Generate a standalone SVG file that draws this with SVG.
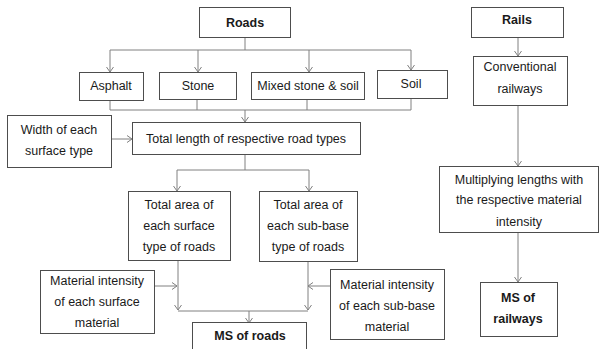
<svg xmlns="http://www.w3.org/2000/svg" width="600" height="349" viewBox="0 0 600 349">
<defs>
<style>
.box{fill:#fff;stroke:#4d4d4d;stroke-width:1}
.t{font-family:"Liberation Sans",Arial,sans-serif;font-size:12.5px;fill:#1a1a1a;text-anchor:middle}
.b{font-weight:bold}
.c{fill:none;stroke:#808080;stroke-width:1}
</style>
<marker id="ah" markerWidth="10" markerHeight="10" refX="8" refY="5" orient="auto" markerUnits="userSpaceOnUse">
<polyline points="3,1.5 8,5 3,8.5" fill="none" stroke="#808080" stroke-width="1"/>
</marker>
</defs>
<rect width="600" height="349" fill="#fff"/>
<g id="connectors">
<path class="c" d="M245,37 V50 M110,50 H411"/>
<path class="c" d="M110,50 V72" marker-end="url(#ah)"/>
<path class="c" d="M198,50 V72" marker-end="url(#ah)"/>
<path class="c" d="M309,50 V72" marker-end="url(#ah)"/>
<path class="c" d="M411,50 V70" marker-end="url(#ah)"/>
<path class="c" d="M110,100 V110 H411 V98 M197,99 V110 M307,99 V110"/>
<path class="c" d="M245,110 V122" marker-end="url(#ah)"/>
<path class="c" d="M111,139 H132" marker-end="url(#ah)"/>
<path class="c" d="M245,154 V170 M177,170 H309"/>
<path class="c" d="M177,170 V191" marker-end="url(#ah)"/>
<path class="c" d="M309,170 V191" marker-end="url(#ah)"/>
<path class="c" d="M154,286 H177" marker-end="url(#ah)"/>
<path class="c" d="M178,260 V310" marker-end="url(#ah)"/>
<path class="c" d="M308,261 V310" marker-end="url(#ah)"/>
<path class="c" d="M330,286 H308" marker-end="url(#ah)"/>
<path class="c" d="M178,311 H308"/>
<path class="c" d="M249,311 V323" marker-end="url(#ah)"/>
<path class="c" d="M518,37 V56" marker-end="url(#ah)"/>
<path class="c" d="M518,105 V166" marker-end="url(#ah)"/>
<path class="c" d="M518,232 V282" marker-end="url(#ah)"/>
</g>
<g id="roads"><rect class="box" x="199.5" y="7.5" width="91" height="30"/><text class="t b" x="245" y="27">Roads</text></g>
<g id="asphalt"><rect class="box" x="79.5" y="72.5" width="64" height="28"/><text class="t" x="111" y="90">Asphalt</text></g>
<g id="stone"><rect class="box" x="159.5" y="72.5" width="77" height="27"/><text class="t" x="198" y="90">Stone</text></g>
<g id="mixed"><rect class="box" x="251.5" y="72.5" width="113" height="27"/><text class="t" x="308" y="90">Mixed stone &amp; soil</text></g>
<g id="soil"><rect class="box" x="377.5" y="70.5" width="70" height="28"/><text class="t" x="411" y="88">Soil</text></g>
<g id="width"><rect class="box" x="7.5" y="115.5" width="104" height="52"/><text class="t" x="59" y="134">Width of each</text><text class="t" x="59" y="155">surface type</text></g>
<g id="totallength"><rect class="box" x="132.5" y="122.5" width="228" height="32"/><text class="t" x="246" y="143">Total length of respective road types</text></g>
<g id="areasurface"><rect class="box" x="128.5" y="191.5" width="102" height="69"/><text class="t" x="179" y="209">Total area of</text><text class="t" x="179" y="230">each surface</text><text class="t" x="179" y="251">type of roads</text></g>
<g id="areasubbase"><rect class="box" x="259.5" y="191.5" width="98" height="70"/><text class="t" x="308" y="209">Total area of</text><text class="t" x="308" y="230">each sub-base</text><text class="t" x="308" y="251">type of roads</text></g>
<g id="misurface"><rect class="box" x="40.5" y="270.5" width="114" height="63"/><text class="t" x="97" y="285">Material intensity</text><text class="t" x="97" y="306">of each surface</text><text class="t" x="97" y="327">material</text></g>
<g id="misubbase"><rect class="box" x="330.5" y="269.5" width="114" height="70"/><text class="t" x="387" y="289">Material intensity</text><text class="t" x="387" y="310">of each sub-base</text><text class="t" x="387" y="331">material</text></g>
<g id="msroads"><rect class="box" x="192.5" y="322.5" width="114" height="30"/><text class="t b" x="250" y="340">MS of roads</text></g>
<g id="rails"><rect class="box" x="471.5" y="7.5" width="92" height="30"/><text class="t b" x="517" y="24">Rails</text></g>
<g id="conventional"><rect class="box" x="473.5" y="56.5" width="94" height="49"/><text class="t" x="520" y="71">Conventional</text><text class="t" x="520" y="93">railways</text></g>
<g id="multiplying"><rect class="box" x="439.5" y="166.5" width="159" height="66"/><text class="t" x="519" y="184">Multiplying lengths with</text><text class="t" x="519" y="204">the respective material</text><text class="t" x="519" y="226">intensity</text></g>
<g id="msrailways"><rect class="box" x="480.5" y="282.5" width="77" height="54"/><text class="t b" x="518" y="302">MS of</text><text class="t b" x="518" y="323">railways</text></g>
</svg>
